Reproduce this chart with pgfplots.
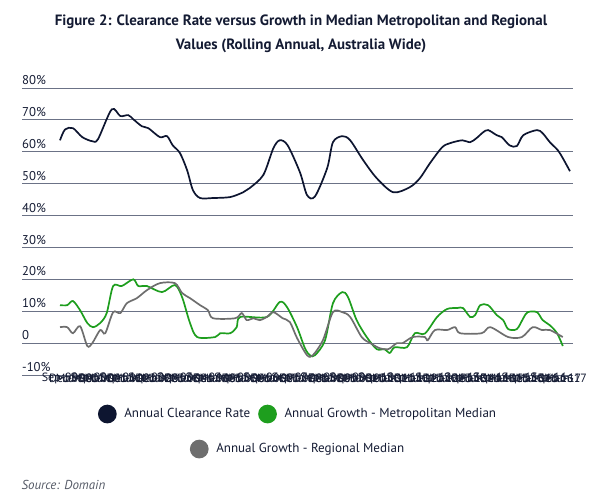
\documentclass[border=0pt]{standalone}
\usepackage{fontspec}
\setmainfont{PT Sans}
\usepackage{pgfplots}
\pgfplotsset{compat=1.18}
\definecolor{navy}{HTML}{141B33}
\definecolor{clr}{HTML}{0D1530}
\definecolor{metro}{HTML}{1E9E1E}
\definecolor{regio}{HTML}{6E6E6E}
\definecolor{gridc}{HTML}{6B7286}
\definecolor{srcc}{HTML}{555A66}
\pgfplotsset{
  base/.style={scale only axis, width=551bp, height=287bp,
    xmin=-5.29, xmax=71.42, ymin=-10, ymax=80,
    at={(22bp,124bp)}, anchor=south west,
    /pgf/number format/assume math mode=true,
    legend image code/.code={\fill[##1] (0bp,0bp) circle (8.5bp); \path[draw=none,fill=none] (-8.5bp,-8.5bp) rectangle (15bp,8.5bp);},
    legend style={draw=none, fill=none, anchor=center, legend columns=2,
      font=\fontsize{13.1}{15}\selectfont, text=navy,
      /tikz/every even column/.append style={column sep=6bp}},
  }
}
\begin{document}
\begin{tikzpicture}
\path[use as bounding box] (0,0) rectangle (600bp,499bp);
\node[align=center, text=navy, font=\fontsize{15}{24}\selectfont\bfseries] at (301bp,465bp)
  {Figure 2: Clearance Rate versus Growth in Median Metropolitan and Regional\\Values (Rolling Annual, Australia Wide)};
\begin{axis}[base,
  axis line style={draw=none},
  major tick length=0pt,
  ytick={-10,0,10,20,30,40,50,60,70,80},
  yticklabels={-10\%,0,10\%,20\%,30\%,40\%,50\%,60\%,70\%,80\%},
  ymajorgrids, grid style={gridc, line width=0.8bp},
  yticklabel style={anchor=south west, inner xsep=0pt, inner ysep=3bp, font=\fontsize{12.8}{14}\selectfont, text=navy},
  xtick={0,...,71},
  xticklabels={Sep-99,Dec-99,Mar-00,Jun-00,Sep-00,Dec-00,Mar-01,Jun-01,Sep-01,Dec-01,Mar-02,Jun-02,Sep-02,Dec-02,Mar-03,Jun-03,Sep-03,Dec-03,Mar-04,Jun-04,Sep-04,Dec-04,Mar-05,Jun-05,Sep-05,Dec-05,Mar-06,Jun-06,Sep-06,Dec-06,Mar-07,Jun-07,Sep-07,Dec-07,Mar-08,Jun-08,Sep-08,Dec-08,Mar-09,Jun-09,Sep-09,Dec-09,Mar-10,Jun-10,Sep-10,Dec-10,Mar-11,Jun-11,Sep-11,Dec-11,Mar-12,Jun-12,Sep-12,Dec-12,Mar-13,Jun-13,Sep-13,Dec-13,Mar-14,Jun-14,Sep-14,Dec-14,Mar-15,Jun-15,Sep-15,Dec-15,Mar-16,Jun-16,Sep-16,Dec-16,Mar-17,Jun-17},
  xticklabel style={anchor=center, yshift=-3bp, font=\fontsize{12}{14}\selectfont, text=navy},
  legend style={at={(0.501,-0.136)}},
]
\addplot[clr, line width=1.7bp, smooth, tension=0.5] coordinates {
(0,63.6)(0.7,67)(1.8,67.4)(3.1,64.6)(4.5,63.3)(5.3,64)(7.2,73.3)(8.4,71.2)(9.5,71.5)(10.2,70.2)
(11.4,68)(12.3,67.4)(13.9,64.6)(14.9,64.9)(15.7,62)(16.7,59.6)(17.7,54.2)(18.5,48)(19.5,45.5)
(21.3,45.5)(23.7,45.8)(25.5,47.3)(26.4,48.6)(28.3,52.7)(29.7,61.1)(30.6,63.6)(31.7,62)(33.4,53.6)
(34.4,46.4)(35.5,46)(37.2,54.9)(38.0,63)(39.3,64.9)(40.4,63.6)(42.2,57.4)(44.1,51.7)(46.4,47.3)
(48.7,48.9)(50.1,51.7)(51.5,56.4)(53.2,61.4)(54.3,62.7)(56.0,63.6)(57.1,63)(58.0,64.3)(58.9,66.1)
(59.6,66.8)(60.8,65.2)(61.5,64.6)(62.6,62)(63.6,61.8)(64.5,65.2)(66.4,66.8)(67.2,65.8)(68.2,63)
(69.3,60.5)(70.0,58)(71,53.9)};
\addlegendentry{Annual Clearance Rate}
\addplot[metro, line width=1.7bp, smooth, tension=0.5] coordinates {
(0,11.9)(1.0,11.9)(1.8,13.2)(2.8,10.3)(3.8,6.3)(4.6,5)(5.6,6.3)(6.5,9.4)(7.4,17.9)(8.6,17.9)
(10.2,20)(10.9,17.9)(12.1,17.9)(14.2,16)(16.0,18.2)(17.0,14.4)(18.1,6.3)(19.1,1.9)(21.6,1.9)
(22.3,3.1)(23.7,3.1)(24.6,5)(25.1,8.2)(28.8,8.2)(30.6,12.9)(31.6,11.3)(33.0,5)(34.1,-1.6)
(34.8,-3.8)(35.5,-3.8)(36.9,0.9)(38.0,12.5)(39.3,16)(40.1,14.4)(41.3,7.2)(42.7,1.9)(44.1,-1.9)
(45.2,-1.9)(45.9,-3.1)(46.6,-1.3)(48.3,-1.3)(49.4,3.1)(50.8,3)(52.5,8.2)(53.9,10.7)(55.3,11)
(56.1,11)(57.1,8.2)(57.8,8.8)(58.5,11.9)(59.6,11.9)(60.8,8.8)(61.7,7.2)(62.4,4.4)(63.6,4.4)
(64.5,7.8)(65.1,9.7)(66.4,9.7)(67.2,7.2)(68.2,5.6)(69.2,3.1)(70.0,-0.9)};
\addlegendentry{Annual Growth - Metropolitan Median}
\end{axis}
\begin{axis}[base, hide axis, legend style={at={(0.501,-0.258)}}]
\addplot[regio, line width=1.7bp, smooth, tension=0.5] coordinates {
(0,5)(1.0,5)(1.8,3.1)(2.8,5.3)(3.8,-0.9)(4.5,0)(5.6,4.1)(6.3,3.1)(7.4,9.7)(8.4,9.4)(9.3,12.5)
(10.7,14.1)(12.1,16.6)(13.9,18.8)(16.0,18.8)(17.0,15.7)(18.1,14.1)(19.5,11.9)(20.6,10.3)(21.3,7.8)
(24.4,7.8)(25.3,9.4)(26.0,7.2)(26.9,7.8)(27.8,7.2)(28.8,8.2)(29.7,9.7)(31.0,7.8)(32.0,6.6)
(33.0,1.6)(34.4,-3.8)(35.2,-3.8)(36.6,0.9)(38.0,9.7)(39.3,9.7)(40.4,8.2)(42.0,1.9)(43.2,0)
(44.5,-1.6)(45.7,-1.9)(46.9,0)(47.7,0)(49.1,1.9)(50.8,1.9)(51.2,0.9)(52.2,4.1)(53.9,4.1)
(55.0,5)(55.7,3.1)(58.7,3.1)(59.9,5)(62.4,1.9)(64.3,1.9)(65.8,5)(67.1,4.1)(68.2,4.1)(70.0,1.9)};
\addlegendentry{Annual Growth - Regional Median}
\end{axis}
\node[anchor=west, text=srcc, font=\fontsize{13}{15}\selectfont\itshape] at (18bp,14bp) {Source: Domain};
\end{tikzpicture}
\end{document}
